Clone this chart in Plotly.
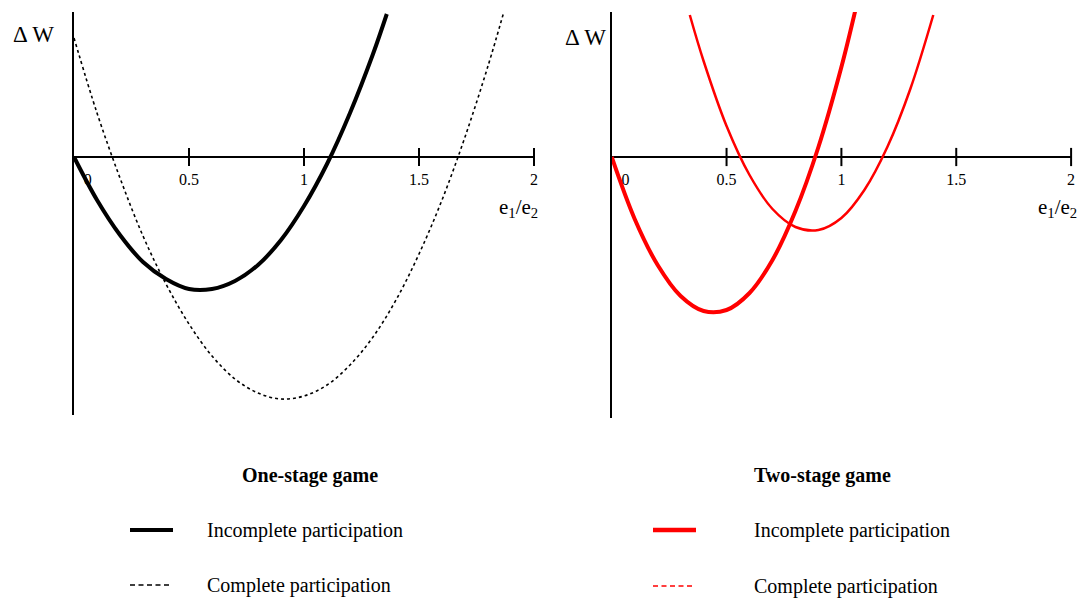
import plotly.graph_objects as go

# ---------------- data ----------------
# One-stage game
one_inc_x = [0, 0.1, 0.2, 0.3, 0.4, 0.5, 0.6, 0.7, 0.8, 0.9, 1.0, 1.1, 1.2, 1.3, 1.36]
one_inc_y = [0, -0.43, -0.78, -1.05, -1.22, -1.32, -1.32, -1.24, -1.08, -0.83, -0.49, -0.07, 0.44, 1.03, 1.43]
one_com_x = [0, 0.1, 0.2, 0.3, 0.4, 0.5, 0.6, 0.7, 0.8, 0.9, 1.0, 1.1, 1.2, 1.3, 1.4, 1.5, 1.6, 1.7, 1.8, 1.87]
one_com_y = [1.19, 0.44, -0.21, -0.79, -1.27, -1.67, -1.99, -2.22, -2.36, -2.42, -2.39, -2.28, -2.08, -1.80, -1.43, -0.97, -0.43, 0.20, 0.91, 1.46]
# Two-stage game
two_inc_x = [0, 0.1, 0.2, 0.3, 0.4, 0.5, 0.6, 0.7, 0.8, 0.9, 1.0, 1.06]
two_inc_y = [0, -0.62, -1.08, -1.39, -1.54, -1.53, -1.36, -1.03, -0.54, 0.10, 0.90, 1.46]
two_com_x = [0.34, 0.4, 0.5, 0.6, 0.7, 0.8, 0.9, 1.0, 1.1, 1.2, 1.3, 1.4]
two_com_y = [1.42, 0.96, 0.31, -0.18, -0.52, -0.70, -0.73, -0.61, -0.33, 0.10, 0.68, 1.42]

tick_vals = [0.5, 1, 1.5, 2]
tick_label_x = [0.06, 0.5, 1, 1.5, 2]
tick_labels = ["0", "0.5", "1", "1.5", "2"]

FONT = "Liberation Serif, Times New Roman, serif"
W, H = 1083, 603

def px(x):
    return x / W

def py(y):
    return 1 - y / H

fig = go.Figure()

# left panel curves
fig.add_trace(go.Scatter(x=one_com_x, y=one_com_y, mode="lines", line=dict(color="black", width=1.6, dash="dot", shape="spline"),
                         xaxis="x", yaxis="y", showlegend=False, hoverinfo="skip"))
fig.add_trace(go.Scatter(x=one_inc_x, y=one_inc_y, mode="lines", line=dict(color="black", width=4, shape="spline"),
                         xaxis="x", yaxis="y", showlegend=False, hoverinfo="skip"))
# right panel curves
fig.add_trace(go.Scatter(x=two_com_x, y=two_com_y, mode="lines", line=dict(color="red", width=2.5, shape="spline"),
                         xaxis="x2", yaxis="y2", showlegend=False, hoverinfo="skip"))
fig.add_trace(go.Scatter(x=two_inc_x, y=two_inc_y, mode="lines", line=dict(color="red", width=4, shape="spline"),
                         xaxis="x2", yaxis="y2", showlegend=False, hoverinfo="skip"))

# tick marks and labels for both panels
for xa, ya in (("x", "y"), ("x2", "y2")):
    fig.add_trace(go.Scatter(x=tick_vals, y=[0] * len(tick_vals), mode="markers",
                             marker=dict(symbol="line-ns", size=13, line=dict(color="black", width=2)),
                             xaxis=xa, yaxis=ya, showlegend=False, hoverinfo="skip", cliponaxis=False))
    fig.add_trace(go.Scatter(x=tick_label_x, y=[-0.24] * len(tick_labels), mode="text", text=tick_labels,
                             textposition="middle center", textfont=dict(family=FONT, size=16, color="black"),
                             xaxis=xa, yaxis=ya, showlegend=False, hoverinfo="skip", cliponaxis=False))

xcommon = dict(range=[0, 2], showgrid=False, zeroline=False, showline=False, showticklabels=False, ticks="", fixedrange=True)
ycommon = dict(showgrid=False, zeroline=True, zerolinewidth=2, zerolinecolor="black", showline=True, linewidth=2,
               linecolor="black", showticklabels=False, ticks="", fixedrange=True)

fig.update_layout(
    width=W, height=H,
    margin=dict(l=0, r=0, t=0, b=0),
    paper_bgcolor="white", plot_bgcolor="white",
    xaxis=dict(domain=[74 / W, 534 / W], anchor="y", **xcommon),
    yaxis=dict(domain=[py(415), py(12)], range=[-2.58, 1.45], anchor="x", **ycommon),
    xaxis2=dict(domain=[611.7 / W, 1071.1 / W], anchor="y2", **xcommon),
    yaxis2=dict(domain=[py(418), py(12)], range=[-2.61, 1.45], anchor="x2", **ycommon),
)

def note(x, y, text, size, xanchor="center"):
    return dict(x=px(x), y=py(y), xref="paper", yref="paper", text=text, showarrow=False,
                xanchor=xanchor, yanchor="middle", font=dict(family=FONT, size=size, color="black"))

ann = []
# axis titles
for (x, y) in ((33, 35), (585, 37)):
    ann.append(note(x, y, "\u0394 W", 23))
for (x, y) in ((518, 208), (1057, 208)):
    ann.append(note(x, y, "e<sub>1</sub>/e<sub>2</sub>", 21))
# legend titles
ann.append(note(310, 475, "<b>One-stage game</b>", 20))
ann.append(note(822, 475, "<b>Two-stage game</b>", 20))
for (x, y, t) in ((205, 530, "Incomplete participation"), (205, 585, "Complete participation"),
                  (752, 530, "Incomplete participation"), (752, 586, "Complete participation")):
    ann.append(note(x, y, t, 20, xanchor="left"))
fig.update_layout(annotations=ann)

shapes = [
    dict(type="line", xref="paper", yref="paper", x0=px(130), x1=px(173), y0=py(530), y1=py(530),
         line=dict(color="black", width=4)),
    dict(type="line", xref="paper", yref="paper", x0=px(130), x1=px(171), y0=py(585), y1=py(585),
         line=dict(color="black", width=1.5, dash="5px,3.5px")),
    dict(type="line", xref="paper", yref="paper", x0=px(653), x1=px(696), y0=py(530), y1=py(530),
         line=dict(color="red", width=4.5)),
    dict(type="line", xref="paper", yref="paper", x0=px(653), x1=px(694), y0=py(586), y1=py(586),
         line=dict(color="red", width=1.5, dash="5px,3.5px")),
]
fig.update_layout(shapes=shapes)

fig.write_html("out.html", config={"displayModeBar": False},
               post_script="document.body.style.margin='0';")
